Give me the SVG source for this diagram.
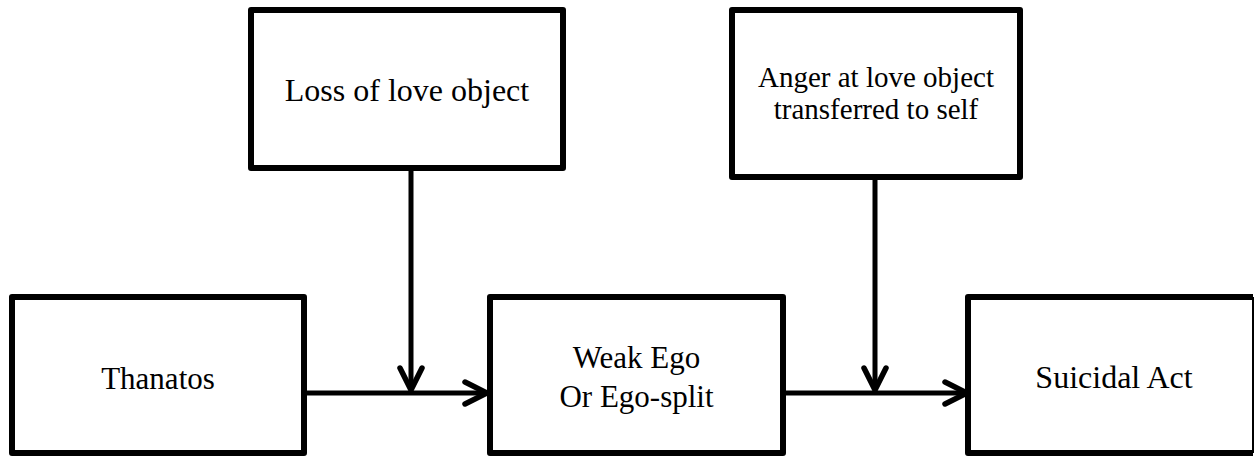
<svg xmlns="http://www.w3.org/2000/svg" width="1258" height="456" viewBox="0 0 1258 456">
<style>
.box{fill:#fff;stroke:#000;stroke-width:6;stroke-linejoin:round}
.lbl{font-family:"Liberation Serif","Times New Roman",serif;fill:#000;text-anchor:middle}
.conn{fill:none;stroke:#000;stroke-width:5}
</style>
<defs>
<marker id="arr" markerUnits="userSpaceOnUse" viewBox="-30 -16 34 32" refX="0" refY="0" markerWidth="34" markerHeight="32" orient="auto">
<path d="M -22 -11 L 0 0 L -22 11" fill="none" stroke="#000" stroke-width="5.5" stroke-linecap="round" stroke-linejoin="miter"/>
</marker>
</defs>
<g id="loss">
<rect class="box" x="251" y="10" width="312" height="158"/>
<text class="lbl" x="407" y="101" font-size="32">Loss of love object</text>
</g>
<g id="anger">
<rect class="box" x="732" y="10" width="288" height="167"/>
<text class="lbl" x="876" y="87" font-size="29">Anger at love object</text>
<text class="lbl" x="876" y="119" font-size="29">transferred to self</text>
</g>
<g id="thanatos">
<rect class="box" x="12" y="297" width="292" height="156"/>
<text class="lbl" x="158" y="389" font-size="31">Thanatos</text>
</g>
<g id="weakego">
<rect class="box" x="490" y="297" width="293" height="156"/>
<text class="lbl" x="636.5" y="368" font-size="31">Weak Ego</text>
<text class="lbl" x="636.5" y="407" font-size="31">Or Ego-split</text>
</g>
<g id="suicidal">
<path d="M 1253 297 L 968 297 L 968 453 L 1253 453" fill="#fff" stroke="#000" stroke-width="6" stroke-linejoin="round"/>
<line x1="1253" y1="297" x2="1253" y2="453" stroke="#000" stroke-width="2"/>
<text class="lbl" x="1114" y="388" font-size="32">Suicidal Act</text>
</g>
<g id="connectors">
<line class="conn" x1="304" y1="393" x2="487" y2="393" marker-end="url(#arr)"/>
<line class="conn" x1="411" y1="168" x2="411" y2="390" marker-end="url(#arr)"/>
<line class="conn" x1="783" y1="393" x2="967" y2="393" marker-end="url(#arr)"/>
<line class="conn" x1="875" y1="177" x2="875" y2="390" marker-end="url(#arr)"/>
</g>
</svg>
